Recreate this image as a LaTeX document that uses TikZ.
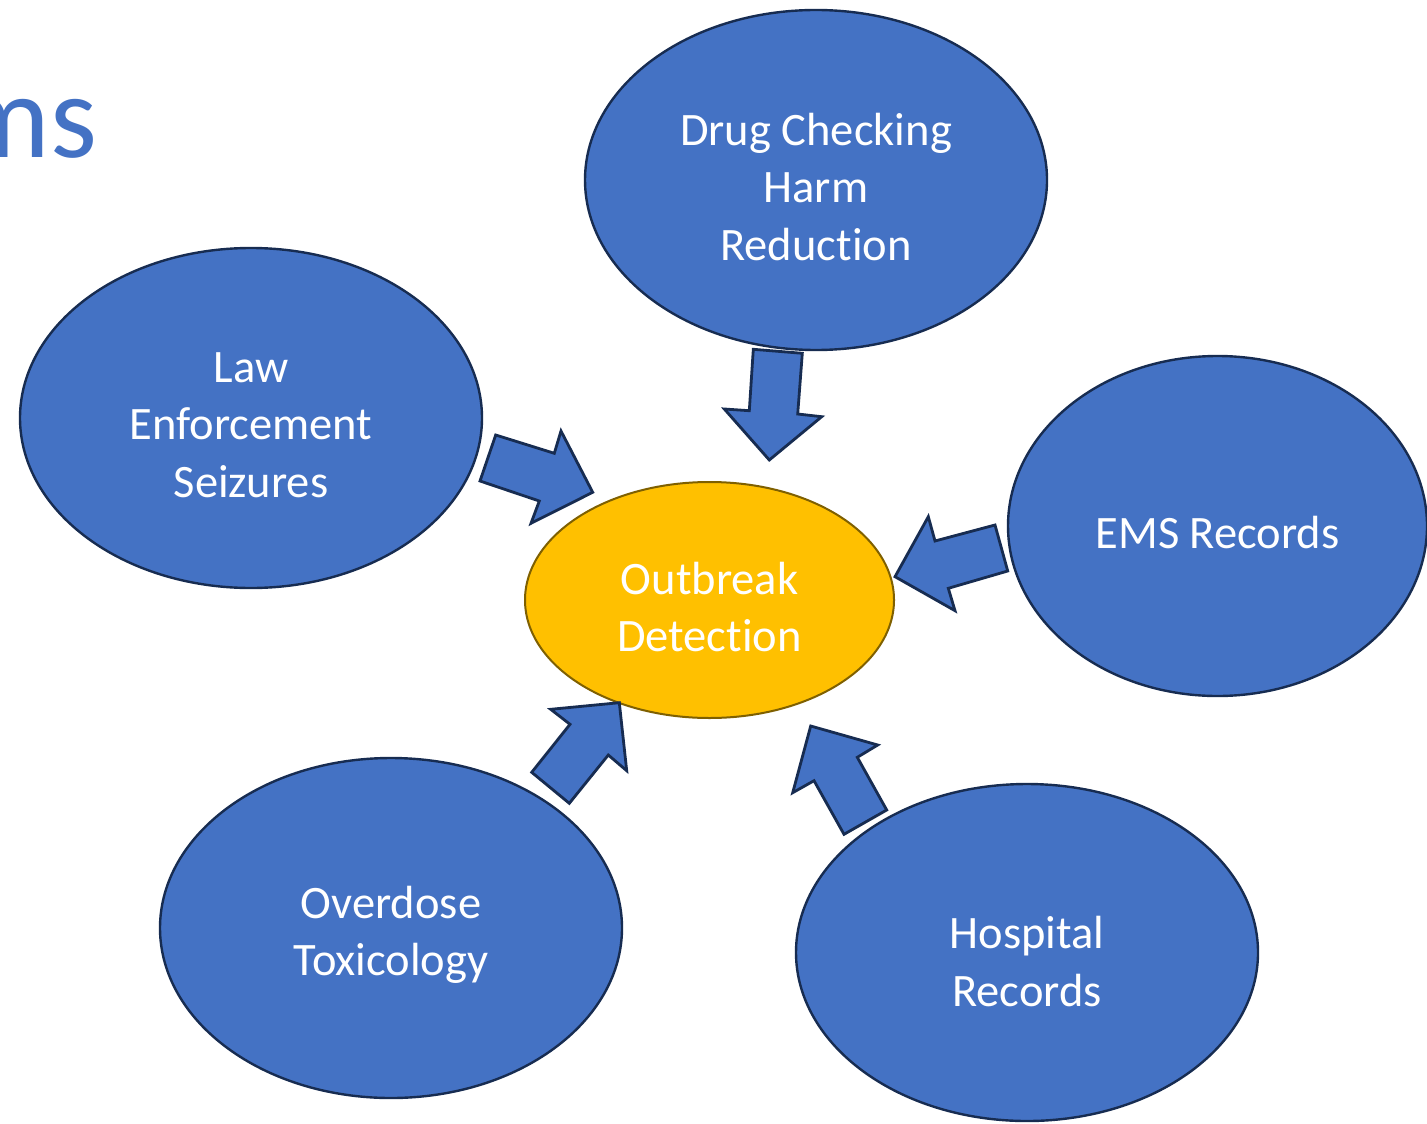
\documentclass[tikz,border=0pt]{standalone}
\usepackage{fontspec}
\setmainfont{Carlito}[Ligatures=NoCommon]
\usetikzlibrary{shapes.geometric}
\definecolor{blueF}{HTML}{4472C4}
\definecolor{blueD}{HTML}{172C51}
\definecolor{orgF}{HTML}{FFC000}
\definecolor{orgD}{HTML}{7F6000}
\tikzset{
  src/.style={ellipse, draw=blueD, fill=blueF, line width=1.2pt, inner sep=0pt},
  hub/.style={ellipse, draw=orgD, fill=orgF, line width=1pt, inner sep=0pt},
  lbl/.style={text=white, align=center, inner sep=0pt, font=\fontsize{23.25}{28.75}\selectfont},
  blockarrow/.style={draw=blueD, fill=blueF, line width=1.4pt, line join=miter},
}
\begin{document}
\begin{tikzpicture}[x=0.5pt,y=-0.5pt]
\useasboundingbox (0,0) rectangle (1427,1123);
\clip (0,0) rectangle (1427,1123);
\fill[white] (0,0) rectangle (1427,1123);
\node[anchor=base east, text=blueF, font=\fontsize{60}{70}\selectfont] (title) at (104,158) {ms};
\node[src, minimum width=231pt, minimum height=170pt] (drug) at (816,180) {};
\node[src, minimum width=231pt, minimum height=170pt] (law) at (251,418) {};
\node[src, minimum width=209.5pt, minimum height=170pt] (ems) at (1217.5,526) {};
\node[src, minimum width=231pt, minimum height=170pt] (od) at (391,928) {};
\node[src, minimum width=231pt, minimum height=168.5pt] (hosp) at (1027,952.5) {};
\node[hub, minimum width=184.5pt, minimum height=118pt] (hub) at (709.5,600) {};
\node[lbl] (drugT) at ([yshift=-3.5pt]drug.center) {Drug Checking\\Harm\\Reduction};
\node[lbl] (lawT) at ([yshift=-3.5pt]law.center) {Law\\Enforcement\\Seizures};
\node[lbl] (emsT) at ([yshift=-3.5pt]ems.center) {EMS Records};
\node[lbl] (odT) at ([yshift=-3.5pt]od.center) {Overdose\\Toxicology};
\node[lbl] (hospT) at ([yshift=-4.5pt]hosp.center) {Hospital\\Records};
\node[lbl] (hubT) at ([yshift=-3.5pt]hub.center) {Outbreak\\Detection};
% block arrows
\draw[blockarrow] (495.7,435) -- (554.3,453.3) -- (561,431) -- (592.7,492.3) -- (531,523.3) -- (539.3,501) -- (480,481) -- cycle;
\draw[blockarrow] (753.3,349.3) -- (802.3,353.3) -- (797.7,414) -- (821.7,416.7) -- (769.3,460) -- (724.3,409) -- (749.3,410.7) -- cycle;
\draw[blockarrow] (995,525) -- (1007.7,571) -- (948.3,588.3) -- (955,610.7) -- (895,576.7) -- (928.3,516.7) -- (935,541) -- cycle;
\draw[blockarrow] (531.7,772.3) -- (569.3,803.3) -- (608.3,755) -- (626.7,770.7) -- (619.3,702.7) -- (550.7,709.3) -- (570,724.3) -- cycle;
\draw[blockarrow] (886.7,810) -- (844,834.3) -- (814,780.7) -- (792.7,792.7) -- (810.7,726) -- (877.7,745) -- (857.3,757.3) -- cycle;
\end{tikzpicture}
\end{document}
